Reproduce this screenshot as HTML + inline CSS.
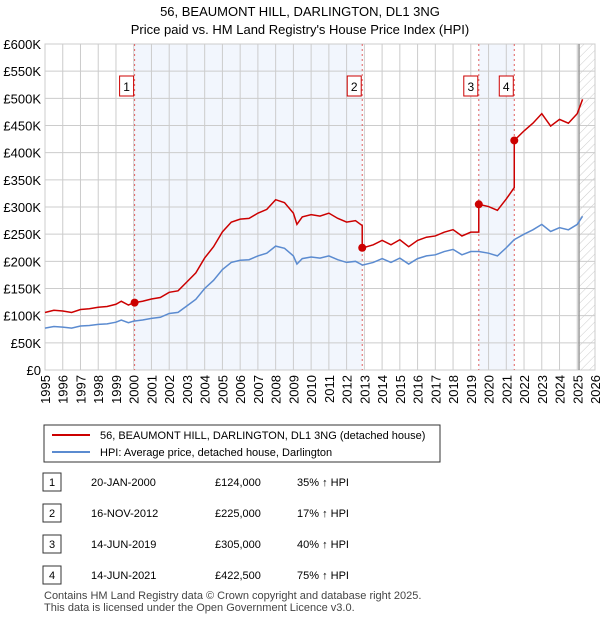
<!DOCTYPE html>
<html><head><meta charset="utf-8"><style>
body{margin:0;background:#fff;font-family:"Liberation Sans","DejaVu Sans",sans-serif;}
#wrap{position:relative;width:600px;height:620px;overflow:hidden}
</style></head><body><div id="wrap">
<svg id="chart" width="600" height="620"></svg>
</div>
<script>
const years = [1995,1995.5,1996,1996.5,1997,1997.5,1998,1998.5,1999,1999.3,1999.7,2000,2000.5,2001,2001.5,2002,2002.5,2003,2003.5,2004,2004.5,2005,2005.5,2006,2006.5,2007,2007.5,2008,2008.5,2009,2009.2,2009.5,2010,2010.5,2011,2011.5,2012,2012.5,2012.9,2013.5,2014,2014.5,2015,2015.5,2016,2016.5,2017,2017.5,2018,2018.5,2019,2019.45,2020,2020.5,2021,2021.45,2022,2022.5,2023,2023.5,2024,2024.5,2025,2025.3];
const hpi = [77,80,79,77,81,82,84,85,88,92,87,90,92,95,97,104,106,118,130,150,165,185,198,202,203,210,215,228,224,210,195,205,208,206,210,203,198,200,193,198,205,198,206,195,205,210,212,218,222,212,218,218,215,210,225,240,250,258,268,255,262,258,268,283];
const saleDates = [2000.05,2012.88,2019.45,2021.45];
const salePrices = [124000,225000,305000,422500];
const saleLabels = ["1","2","3","4"];
const yTicks = [0,50,100,150,200,250,300,350,400,450,500,550,600];
const xTicks = [1995,1996,1997,1998,1999,2000,2001,2002,2003,2004,2005,2006,2007,2008,2009,2010,2011,2012,2013,2014,2015,2016,2017,2018,2019,2020,2021,2022,2023,2024,2025,2026];
</script>
<script>
const svg=document.getElementById('chart');const NS='http://www.w3.org/2000/svg';
const X0=45,X1=595,Y0=370,Y1=44;
const xs=t=>X0+(t-1995)/(2026-1995)*(X1-X0);
const ys=v=>Y0-v/600*(Y0-Y1);
function mk(tag,a,parent){const e=document.createElementNS(NS,tag);for(const k in a)e.setAttribute(k,a[k]);(parent||svg).appendChild(e);return e;}
function txt(s,a){const e=mk('text',a);e.textContent=s;return e;}
const t=txt('56, BEAUMONT HILL, DARLINGTON, DL1 3NG',{x:300,y:16,'text-anchor':'middle','font-size':13});


const st=txt("Price paid vs. HM Land Registry's House Price Index (HPI)",{x:300,y:34,'text-anchor':'middle','font-size':13});


[[0,1],[2,3]].forEach(p=>{const r=mk('rect',{x:xs(saleDates[p[0]]),y:Y1,width:xs(saleDates[p[1]])-xs(saleDates[p[0]]),height:Y0-Y1,fill:'#f2f6fd'});

});
const defs=mk('defs',{});const pat=mk('pattern',{id:'h',width:6,height:6,patternUnits:'userSpaceOnUse',patternTransform:'rotate(45)'},defs);mk('line',{x1:0,y1:0,x2:0,y2:6,stroke:'#ccc','stroke-width':1},pat);
const hr=mk('rect',{x:xs(2025.1),y:Y1,width:X1-xs(2025.1),height:Y0-Y1,fill:'url(#h)'});


yTicks.forEach(v=>{mk('line',{x1:X0,x2:X1,y1:ys(v),y2:ys(v),stroke:'#ccc'});const l=txt(v==0?'£0':'£'+v+'K',{x:41,y:ys(v)+5,'text-anchor':'end','font-size':13});

});
xTicks.forEach(v=>{mk('line',{x1:xs(v),x2:xs(v),y1:Y1,y2:Y0,stroke:'#ccc'});const l=txt(String(v),{x:0,y:0,'font-size':13,'text-anchor':'end',transform:`translate(${xs(v)+5},${Y0+5}) rotate(-90)`});

});
mk('rect',{x:X0,y:Y1,width:X1-X0,height:Y0-Y1,fill:'none',stroke:'#ccc'});
mk('line',{x1:xs(2025.1),x2:xs(2025.1),y1:Y1,y2:Y0,stroke:'#999','stroke-width':1.5});
function hpiAt(tt){for(let i=0;i<years.length-1;i++){if(tt>=years[i]&&tt<=years[i+1]){const f=(tt-years[i])/(years[i+1]-years[i]);return hpi[i]+f*(hpi[i+1]-hpi[i]);}}return hpi[hpi.length-1];}
function factorAt(tt){let k=0;for(let i=0;i<saleDates.length;i++)if(tt>=saleDates[i])k=i;return salePrices[k]/1000/hpiAt(saleDates[k]);}
saleDates.forEach((d,i)=>{mk('line',{x1:xs(d),x2:xs(d),y1:Y1,y2:Y0,stroke:'#e06060','stroke-dasharray':'2,3'});
const g=mk('g',{});

mk('rect',{x:xs(d)-15,y:76,width:14,height:20,fill:'#fff',stroke:'#c00'},g);const tx=mk('text',{x:xs(d)-8,y:91,'text-anchor':'middle','font-size':12},g);tx.textContent=saleLabels[i];});
const bl=mk('polyline',{points:years.map((y,i)=>xs(y)+','+ys(hpi[i])).join(' '),fill:'none',stroke:'#5b8bd0','stroke-width':1.5});


let pts=[];let all=years.concat(saleDates).concat(saleDates.map(d=>d-0.001)).sort((a,b)=>a-b);
all.forEach(tt=>{const f=tt<saleDates[0]?salePrices[0]/1000/hpiAt(saleDates[0]):factorAt(tt);pts.push(xs(tt)+','+ys(hpiAt(tt)*f));});
const rl=mk('polyline',{points:pts.join(' '),fill:'none',stroke:'#cc0000','stroke-width':1.5});


saleDates.forEach((d,i)=>{const c=mk('circle',{cx:xs(d),cy:ys(salePrices[i]/1000),r:4,fill:'#cc0000'});

});
const lg=mk('g',{});

mk('rect',{x:44,y:425,width:396,height:37,fill:'#fff',stroke:'#333'},lg);
mk('line',{x1:52,x2:90,y1:435,y2:435,stroke:'#cc0000','stroke-width':2},lg);
mk('line',{x1:52,x2:90,y1:452,y2:452,stroke:'#5b8bd0','stroke-width':2},lg);
let e=mk('text',{x:100,y:439,'font-size':11},lg);e.textContent='56, BEAUMONT HILL, DARLINGTON, DL1 3NG (detached house)';
e=mk('text',{x:100,y:456,'font-size':11},lg);e.textContent='HPI: Average price, detached house, Darlington';
const rows=[['1','20-JAN-2000','£124,000','35% ↑ HPI'],['2','16-NOV-2012','£225,000','17% ↑ HPI'],['3','14-JUN-2019','£305,000','40% ↑ HPI'],['4','14-JUN-2021','£422,500','75% ↑ HPI']];
rows.forEach((r,i)=>{const y=482+i*31;const g=mk('g',{});

mk('rect',{x:43,y:y-9,width:18,height:18,fill:'#fff',stroke:'#333'},g);
[[52,r[0],'middle'],[91,r[1],'start'],[215,r[2],'start'],[297,r[3],'start']].forEach(c=>{const q=mk('text',{x:c[0],y:y+4,'font-size':11,'text-anchor':c[2]},g);q.textContent=c[1];});});
e=txt('Contains HM Land Registry data © Crown copyright and database right 2025.',{x:44,y:599,'font-size':11,fill:'#444'});


e=txt('This data is licensed under the Open Government Licence v3.0.',{x:44,y:611,'font-size':11,fill:'#444'});


</script></body></html>
